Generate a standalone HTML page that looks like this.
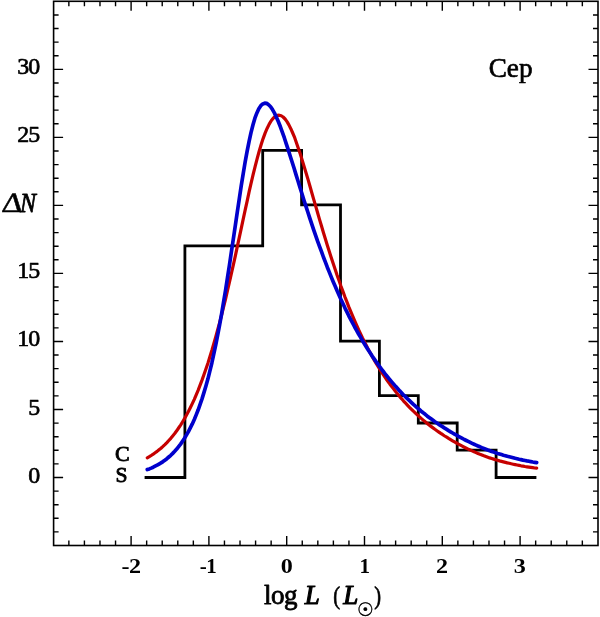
<!DOCTYPE html>
<html><head><meta charset="utf-8"><title>Cep</title>
<style>
html,body{margin:0;padding:0;background:#fff;}
svg{display:block}
text{font-family:"Liberation Serif","DejaVu Serif",serif;fill:#000;stroke:#000;stroke-width:0.65px;stroke-linejoin:round}
.yl{font-size:23.2px;letter-spacing:-0.8px}
.xl{font-size:21.9px;letter-spacing:-0.5px;font-weight:bold;stroke:none}
.it{font-style:italic}
.sun{font-family:"DejaVu Sans",sans-serif;font-size:18.6px;stroke-width:0.4px}
</style></head><body>
<svg width="600" height="617" viewBox="0 0 600 617">
<rect width="600" height="617" fill="#fff"/>
<rect x="53.6" y="1.3" width="544.4" height="544.2" fill="none" stroke="#000" stroke-width="1.6"/>
<path d="M68.86,545.5 v-5.0 M68.86,1.3 v5.0 M84.42,545.5 v-5.0 M84.42,1.3 v5.0 M99.98,545.5 v-5.0 M99.98,1.3 v5.0 M115.54,545.5 v-5.0 M115.54,1.3 v5.0 M131.10,545.5 v-9.5 M131.10,1.3 v9.5 M146.66,545.5 v-5.0 M146.66,1.3 v5.0 M162.22,545.5 v-5.0 M162.22,1.3 v5.0 M177.78,545.5 v-5.0 M177.78,1.3 v5.0 M193.34,545.5 v-5.0 M193.34,1.3 v5.0 M208.90,545.5 v-9.5 M208.90,1.3 v9.5 M224.46,545.5 v-5.0 M224.46,1.3 v5.0 M240.02,545.5 v-5.0 M240.02,1.3 v5.0 M255.58,545.5 v-5.0 M255.58,1.3 v5.0 M271.14,545.5 v-5.0 M271.14,1.3 v5.0 M286.70,545.5 v-9.5 M286.70,1.3 v9.5 M302.26,545.5 v-5.0 M302.26,1.3 v5.0 M317.82,545.5 v-5.0 M317.82,1.3 v5.0 M333.38,545.5 v-5.0 M333.38,1.3 v5.0 M348.94,545.5 v-5.0 M348.94,1.3 v5.0 M364.50,545.5 v-9.5 M364.50,1.3 v9.5 M380.06,545.5 v-5.0 M380.06,1.3 v5.0 M395.62,545.5 v-5.0 M395.62,1.3 v5.0 M411.18,545.5 v-5.0 M411.18,1.3 v5.0 M426.74,545.5 v-5.0 M426.74,1.3 v5.0 M442.30,545.5 v-9.5 M442.30,1.3 v9.5 M457.86,545.5 v-5.0 M457.86,1.3 v5.0 M473.42,545.5 v-5.0 M473.42,1.3 v5.0 M488.98,545.5 v-5.0 M488.98,1.3 v5.0 M504.54,545.5 v-5.0 M504.54,1.3 v5.0 M520.10,545.5 v-9.5 M520.10,1.3 v9.5 M535.66,545.5 v-5.0 M535.66,1.3 v5.0 M551.22,545.5 v-5.0 M551.22,1.3 v5.0 M566.78,545.5 v-5.0 M566.78,1.3 v5.0 M582.34,545.5 v-5.0 M582.34,1.3 v5.0 M53.6,531.92 h5.0 M598.0,531.92 h-5.0 M53.6,518.32 h5.0 M598.0,518.32 h-5.0 M53.6,504.71 h5.0 M598.0,504.71 h-5.0 M53.6,491.11 h5.0 M598.0,491.11 h-5.0 M53.6,477.50 h9.5 M598.0,477.50 h-9.5 M53.6,463.89 h5.0 M598.0,463.89 h-5.0 M53.6,450.29 h5.0 M598.0,450.29 h-5.0 M53.6,436.69 h5.0 M598.0,436.69 h-5.0 M53.6,423.08 h5.0 M598.0,423.08 h-5.0 M53.6,409.48 h9.5 M598.0,409.48 h-9.5 M53.6,395.87 h5.0 M598.0,395.87 h-5.0 M53.6,382.26 h5.0 M598.0,382.26 h-5.0 M53.6,368.66 h5.0 M598.0,368.66 h-5.0 M53.6,355.06 h5.0 M598.0,355.06 h-5.0 M53.6,341.45 h9.5 M598.0,341.45 h-9.5 M53.6,327.85 h5.0 M598.0,327.85 h-5.0 M53.6,314.24 h5.0 M598.0,314.24 h-5.0 M53.6,300.63 h5.0 M598.0,300.63 h-5.0 M53.6,287.03 h5.0 M598.0,287.03 h-5.0 M53.6,273.42 h9.5 M598.0,273.42 h-9.5 M53.6,259.82 h5.0 M598.0,259.82 h-5.0 M53.6,246.22 h5.0 M598.0,246.22 h-5.0 M53.6,232.61 h5.0 M598.0,232.61 h-5.0 M53.6,219.00 h5.0 M598.0,219.00 h-5.0 M53.6,205.40 h9.5 M598.0,205.40 h-9.5 M53.6,191.80 h5.0 M598.0,191.80 h-5.0 M53.6,178.19 h5.0 M598.0,178.19 h-5.0 M53.6,164.58 h5.0 M598.0,164.58 h-5.0 M53.6,150.98 h5.0 M598.0,150.98 h-5.0 M53.6,137.38 h9.5 M598.0,137.38 h-9.5 M53.6,123.77 h5.0 M598.0,123.77 h-5.0 M53.6,110.16 h5.0 M598.0,110.16 h-5.0 M53.6,96.56 h5.0 M598.0,96.56 h-5.0 M53.6,82.95 h5.0 M598.0,82.95 h-5.0 M53.6,69.35 h9.5 M598.0,69.35 h-9.5 M53.6,55.75 h5.0 M598.0,55.75 h-5.0 M53.6,42.14 h5.0 M598.0,42.14 h-5.0 M53.6,28.53 h5.0 M598.0,28.53 h-5.0 M53.6,14.93 h5.0 M598.0,14.93 h-5.0" stroke="#000" stroke-width="1.4" fill="none"/>
<path d="M146.0,477.5 L184.9,477.5 L184.9,245.8 L262.7,245.8 L262.7,150.4 L301.6,150.4 L301.6,204.9 L340.5,204.9 L340.5,341.2 L379.4,341.2 L379.4,395.7 L418.3,395.7 L418.3,423.0 L457.2,423.0 L457.2,450.2 L496.1,450.2 L496.1,477.5 L535.0,477.5" fill="none" stroke="#000" stroke-width="2.8" stroke-linejoin="miter" stroke-linecap="square"/>
<path d="M147.3,457.8 L149.3,456.7 L151.2,455.5 L153.2,454.2 L155.1,452.8 L157.1,451.4 L159.0,449.8 L161.0,448.2 L163.0,446.4 L164.9,444.6 L166.9,442.6 L168.8,440.5 L170.8,438.3 L172.7,435.9 L174.7,433.5 L176.7,430.8 L178.6,428.0 L180.6,425.1 L182.5,422.0 L184.5,418.7 L186.4,415.2 L188.4,411.5 L190.3,407.7 L192.3,403.6 L194.3,399.3 L196.2,394.8 L198.2,390.1 L200.1,385.1 L202.1,379.9 L204.0,374.5 L206.0,368.8 L208.0,362.9 L209.9,356.7 L211.9,350.3 L213.8,343.7 L215.8,336.8 L217.7,329.7 L219.7,322.3 L221.7,314.7 L223.6,306.9 L225.6,298.8 L227.5,290.5 L229.5,282.0 L231.4,273.4 L233.4,264.6 L235.4,255.6 L237.3,246.6 L239.3,237.4 L241.3,228.2 L243.2,219.1 L245.2,209.9 L247.2,200.8 L249.1,191.9 L251.1,183.2 L253.1,174.7 L255.1,166.6 L257.1,158.8 L259.1,151.5 L261.1,144.8 L263.1,138.6 L265.1,133.1 L267.2,128.2 L269.2,124.1 L271.2,120.7 L273.2,118.2 L275.2,116.4 L277.2,115.4 L279.2,115.2 L281.2,115.7 L283.1,117.0 L285.1,119.0 L287.0,121.6 L288.9,124.9 L290.8,128.7 L292.7,133.0 L294.7,137.7 L296.5,142.9 L298.4,148.4 L300.3,154.1 L302.2,160.2 L304.1,166.4 L306.0,172.8 L308.0,179.4 L309.9,186.0 L311.8,192.7 L313.7,199.4 L315.7,206.1 L317.6,212.7 L319.5,219.4 L321.5,226.0 L323.4,232.5 L325.4,238.9 L327.3,245.2 L329.3,251.5 L331.2,257.6 L333.2,263.6 L335.2,269.4 L337.1,275.2 L339.1,280.8 L341.0,286.3 L343.0,291.6 L344.9,296.8 L346.9,301.9 L348.8,306.9 L350.8,311.7 L352.8,316.4 L354.7,320.9 L356.7,325.4 L358.6,329.7 L360.6,333.9 L362.5,338.0 L364.5,342.0 L366.5,345.8 L368.4,349.6 L370.4,353.2 L372.3,356.7 L374.3,360.1 L376.2,363.5 L378.2,366.7 L380.2,369.8 L382.1,372.9 L384.1,375.8 L386.0,378.7 L388.0,381.5 L389.9,384.2 L391.9,386.8 L393.9,389.3 L395.8,391.8 L397.8,394.2 L399.7,396.6 L401.7,398.8 L403.6,401.1 L405.6,403.2 L407.6,405.3 L409.5,407.3 L411.5,409.3 L413.4,411.2 L415.4,413.1 L417.3,414.9 L419.3,416.7 L421.2,418.4 L423.2,420.1 L425.2,421.8 L427.1,423.4 L429.1,424.9 L431.0,426.4 L433.0,427.9 L434.9,429.3 L436.9,430.7 L438.9,432.1 L440.8,433.4 L442.8,434.7 L444.7,436.0 L446.7,437.2 L448.6,438.4 L450.6,439.6 L452.6,440.8 L454.5,441.9 L456.5,443.0 L458.4,444.1 L460.4,445.2 L462.3,446.2 L464.3,447.2 L466.3,448.2 L468.2,449.1 L470.2,450.0 L472.1,450.9 L474.1,451.8 L476.0,452.6 L478.0,453.5 L480.0,454.3 L481.9,455.0 L483.9,455.8 L485.8,456.5 L487.8,457.2 L489.7,457.9 L491.7,458.5 L493.7,459.1 L495.6,459.7 L497.6,460.3 L499.5,460.9 L501.5,461.4 L503.4,461.9 L505.4,462.4 L507.3,462.9 L509.3,463.3 L511.3,463.8 L513.2,464.2 L515.2,464.6 L517.1,465.0 L519.1,465.4 L521.0,465.8 L523.0,466.1 L525.0,466.5 L526.9,466.8 L528.9,467.1 L530.8,467.4 L532.8,467.7 L534.7,468.0 L536.7,468.2" fill="none" stroke="#c60000" stroke-width="3.2" stroke-linecap="round" stroke-linejoin="round"/>
<path d="M147.3,469.6 L149.3,468.9 L151.2,468.1 L153.2,467.2 L155.1,466.2 L157.1,465.2 L159.0,464.1 L161.0,462.9 L163.0,461.6 L164.9,460.2 L166.9,458.7 L168.8,457.0 L170.8,455.3 L172.7,453.4 L174.7,451.3 L176.7,449.1 L178.6,446.7 L180.6,444.1 L182.5,441.3 L184.5,438.3 L186.4,435.1 L188.4,431.6 L190.3,427.9 L192.3,423.9 L194.3,419.5 L196.2,414.9 L198.2,409.8 L200.1,404.4 L202.1,398.6 L204.0,392.4 L206.0,385.7 L208.0,378.6 L209.9,370.9 L211.9,362.7 L213.8,353.9 L215.8,344.7 L217.7,334.8 L219.7,324.4 L221.7,313.4 L223.6,301.9 L225.6,290.0 L227.5,277.6 L229.5,264.8 L231.4,251.7 L233.4,238.5 L235.4,225.1 L237.3,211.9 L239.3,198.8 L241.2,186.0 L243.2,173.8 L245.1,162.2 L247.1,151.3 L249.1,141.4 L251.0,132.6 L253.0,124.8 L254.9,118.2 L256.9,112.9 L258.8,108.7 L260.8,105.7 L262.8,103.9 L264.7,103.2 L266.7,103.4 L268.6,104.7 L270.6,106.7 L272.5,109.6 L274.5,113.1 L276.4,117.2 L278.4,121.8 L280.4,126.8 L282.3,132.1 L284.3,137.7 L286.2,143.6 L288.2,149.6 L290.1,155.8 L292.1,162.0 L294.1,168.3 L296.0,174.6 L298.0,181.0 L299.9,187.3 L301.9,193.5 L303.8,199.7 L305.8,205.9 L307.8,212.0 L309.7,217.9 L311.7,223.8 L313.6,229.6 L315.6,235.3 L317.5,240.9 L319.5,246.3 L321.5,251.7 L323.4,257.0 L325.4,262.1 L327.3,267.2 L329.3,272.1 L331.2,276.9 L333.2,281.7 L335.2,286.3 L337.1,290.8 L339.1,295.2 L341.0,299.5 L343.0,303.7 L344.9,307.8 L346.9,311.8 L348.8,315.8 L350.8,319.6 L352.8,323.3 L354.7,327.0 L356.7,330.6 L358.6,334.0 L360.6,337.4 L362.5,340.8 L364.5,344.0 L366.5,347.2 L368.4,350.3 L370.4,353.3 L372.3,356.2 L374.3,359.1 L376.2,361.9 L378.2,364.7 L380.2,367.3 L382.1,370.0 L384.1,372.5 L386.0,375.0 L388.0,377.4 L389.9,379.8 L391.9,382.1 L393.9,384.4 L395.8,386.6 L397.8,388.8 L399.7,390.9 L401.7,393.0 L403.6,395.0 L405.6,396.9 L407.6,398.9 L409.5,400.7 L411.5,402.6 L413.4,404.4 L415.4,406.1 L417.3,407.8 L419.3,409.5 L421.2,411.2 L423.2,412.8 L425.2,414.3 L427.1,415.9 L429.1,417.4 L431.0,418.8 L433.0,420.3 L434.9,421.7 L436.9,423.0 L438.9,424.4 L440.8,425.7 L442.8,426.9 L444.7,428.2 L446.7,429.4 L448.6,430.6 L450.6,431.8 L452.6,433.0 L454.5,434.1 L456.5,435.2 L458.4,436.3 L460.4,437.4 L462.3,438.4 L464.3,439.5 L466.3,440.5 L468.2,441.4 L470.2,442.4 L472.1,443.3 L474.1,444.2 L476.0,445.1 L478.0,446.0 L480.0,446.8 L481.9,447.7 L483.9,448.4 L485.8,449.2 L487.8,450.0 L489.7,450.7 L491.7,451.4 L493.7,452.1 L495.6,452.7 L497.6,453.4 L499.5,454.0 L501.5,454.6 L503.4,455.2 L505.4,455.7 L507.3,456.3 L509.3,456.8 L511.3,457.3 L513.2,457.8 L515.2,458.3 L517.1,458.7 L519.1,459.2 L521.0,459.6 L523.0,460.1 L525.0,460.5 L526.9,460.9 L528.9,461.2 L530.8,461.6 L532.8,462.0 L534.7,462.3 L536.7,462.6" fill="none" stroke="#0000cc" stroke-width="3.7" stroke-linecap="round" stroke-linejoin="round"/>
<text transform="translate(39.4,482.5) scale(1.03,1)" text-anchor="end" class="yl">0</text>
<text transform="translate(39.4,414.5) scale(1.03,1)" text-anchor="end" class="yl">5</text>
<text transform="translate(39.4,346.4) scale(1.03,1)" text-anchor="end" class="yl">10</text>
<text transform="translate(39.4,278.4) scale(1.03,1)" text-anchor="end" class="yl">15</text>
<text transform="translate(39.4,142.4) scale(1.03,1)" text-anchor="end" class="yl">25</text>
<text transform="translate(39.4,74.3) scale(1.03,1)" text-anchor="end" class="yl">30</text>
<text transform="translate(130.9,573.4) scale(1.1,1)" text-anchor="middle" class="xl">-2</text>
<text transform="translate(207.9,573.4) scale(0.96,1)" text-anchor="middle" class="xl">-1</text>
<text transform="translate(286.4,573.4) scale(1.1,1)" text-anchor="middle" class="xl">0</text>
<text transform="translate(364.5,573.4) scale(0.96,1)" text-anchor="middle" class="xl">1</text>
<text transform="translate(441.7,573.4) scale(1.1,1)" text-anchor="middle" class="xl">2</text>
<text transform="translate(519.5,573.4) scale(1.1,1)" text-anchor="middle" class="xl">3</text>

<text transform="translate(1.0,211.6) skewX(-8) scale(1.17,1)" style="font-size:28px;stroke-width:0.5px">Δ</text>
<text x="20.0" y="211.8" class="it" style="font-size:26.8px;stroke-width:0.8px" textLength="16.0" lengthAdjust="spacingAndGlyphs">N</text>
<text x="488.7" y="77.0" style="font-size:27.2px">Cep</text>
<text x="115.1" y="461.3" style="font-size:22px;stroke-width:0.85px">C</text>
<text x="115.5" y="482.4" style="font-size:21.6px;stroke-width:0.85px">S</text>
<text y="604.1" style="font-size:27px"><tspan x="263.9" style="letter-spacing:-0.5px;stroke-width:0.8px">log</tspan> <tspan x="304.7" class="it" style="stroke-width:1.1px;font-size:27px">L</tspan> <tspan x="333.2" y="603.5" style="font-size:25px;stroke-width:0.7px" textLength="6.8" lengthAdjust="spacingAndGlyphs">(</tspan><tspan x="343.3" y="604.1" class="it" style="stroke-width:1.1px;font-size:27px">L</tspan><tspan x="357.3" y="616.3" class="sun">☉</tspan><tspan x="374.2" y="603.5" style="font-size:25px;stroke-width:0.7px" textLength="6.8" lengthAdjust="spacingAndGlyphs">)</tspan></text>
</svg>
</body></html>
